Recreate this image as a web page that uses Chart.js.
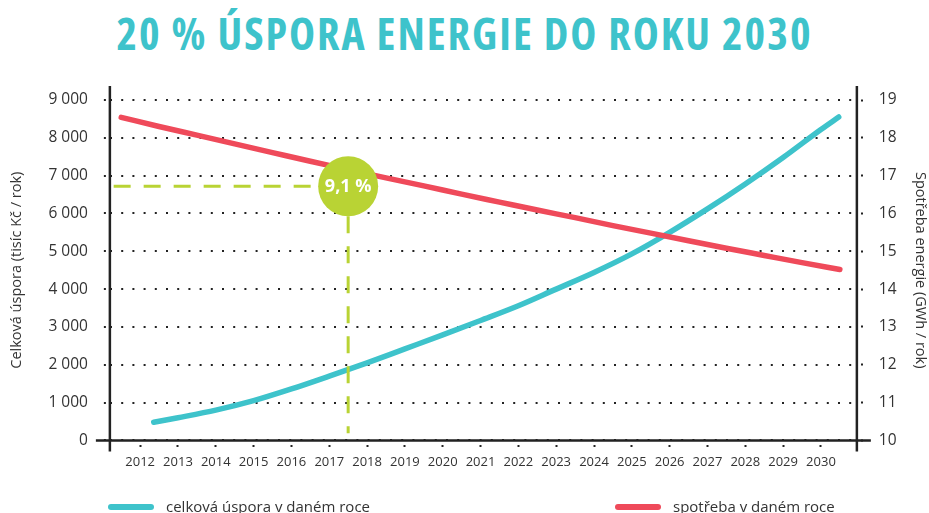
<!DOCTYPE html>
<html lang="cs">
<head>
<meta charset="utf-8">
<script src="https://cdn.jsdelivr.net/npm/chart.js@4"></script>
<style>
  html, body { margin: 0; padding: 0; background: #fff; }
  #wrap { position: relative; width: 929px; height: 513px; overflow: hidden; }
  #title {
    position: absolute; left: 0; top: 3px; width: 929px; text-align: center;
    font-family: "Open Sans"; font-weight: 700; font-stretch: 75%; font-size: 44px;
    letter-spacing: 2px; color: #3ec3cb; white-space: nowrap;
  }
  #chart { position: absolute; left: 0; top: 0; }
  .legend-item {
    position: absolute; top: 496px; font-family: "Open Sans"; font-size: 15px;
    color: #333; white-space: nowrap; line-height: 20px;
  }
  .legend-item i {
    display: inline-block; width: 46px; height: 6px; border-radius: 3px;
    vertical-align: middle; margin-right: 12px; position: relative; top: -1px;
  }
</style>
</head>
<body>
<div id="wrap">
  <div id="title">20 % ÚSPORA ENERGIE DO ROKU 2030</div>
  <canvas id="chart" width="929" height="513"></canvas>
  <div id="legend"></div>
</div>
<script>
// roky na ose x
const years = [2012, 2013, 2014, 2015, 2016, 2017, 2018, 2019, 2020, 2021,
  2022, 2023, 2024, 2025, 2026, 2027, 2028, 2029, 2030];

// celková úspora (tisíc Kč / rok) - levá osa
const savingYears = [2012.36, 2013, 2014, 2015, 2016, 2017, 2018, 2019, 2020, 2021,
  2022, 2023, 2024, 2025, 2026, 2027, 2028, 2029, 2030, 2030.47];
const savingValues = [480, 600, 800, 1050, 1360, 1700, 2050, 2420, 2790, 3170,
  3560, 4000, 4440, 4930, 5500, 6120, 6780, 7480, 8220, 8550];

// spotřeba energie (GWh / rok) - pravá osa
const consumptionYears = [2011.5, 2012.5, 2013.5, 2014.5, 2015.5, 2016.5, 2017.5, 2018.5, 2019.5, 2020.5,
  2021.5, 2022.5, 2023.5, 2024.5, 2025.5, 2026.5, 2027.5, 2028.5, 2029.5, 2030.5];
const consumptionValues = [18.54, 18.30, 18.07, 17.84, 17.61, 17.38, 17.16, 16.94, 16.73, 16.51,
  16.30, 16.09, 15.89, 15.68, 15.48, 15.28, 15.08, 14.89, 14.70, 14.52];

const leftTickLabels = ["0", "1 000", "2 000", "3 000", "4 000", "5 000", "6 000", "7 000", "8 000", "9 000"];
const rightTickLabels = ["10", "11", "12", "13", "14", "15", "16", "17", "18", "19"];

// zvýrazněný bod
const markerYear = 2017.5;
const markerLevel = 6720;
const markerText = "9,1 %";

const CYAN = "#3ec3cb";
const RED = "#ef4a5a";
const LIME = "#b9d334";
const INK = "#222";
const TEXT = "#333";

const frame = {
  id: "frame",
  beforeDatasetsDraw(chart) {
    const { ctx, chartArea: a } = chart;
    ctx.save();
    ctx.strokeStyle = INK;
    ctx.lineWidth = 2.5;
    ctx.beginPath();
    ctx.moveTo(a.left, a.top - 14); ctx.lineTo(a.left, a.bottom + 11);
    ctx.moveTo(a.right, a.top - 14); ctx.lineTo(a.right, a.bottom + 11);
    ctx.moveTo(a.left - 14, a.bottom); ctx.lineTo(a.right + 14, a.bottom);
    ctx.stroke();
    ctx.restore();
  },
  afterDatasetsDraw(chart) {
    const pt = chart.getDatasetMeta(0).data[0];
    const ctx = chart.ctx;
    ctx.save();
    ctx.fillStyle = "#fff";
    ctx.font = "bold 18px 'Open Sans'";
    ctx.textAlign = "center";
    ctx.textBaseline = "middle";
    ctx.fillText(markerText, pt.x, pt.y + 1);
    ctx.restore();
  }
};

const tickFont = { family: "Open Sans", size: 15.5 };
const axisTitleFont = { family: "Open Sans", size: 14.5 };

const chart = new Chart(document.getElementById("chart"), {
  type: "line",
  data: {
    datasets: [
      {
        label: "marker",
        data: [{ x: markerYear, y: markerLevel }],
        yAxisID: "y",
        showLine: false,
        pointRadius: 30,
        pointBackgroundColor: LIME,
        pointBorderWidth: 0
      },
      {
        label: "h",
        data: [{ x: 2011.3, y: markerLevel }, { x: markerYear, y: markerLevel }],
        yAxisID: "y",
        borderColor: LIME,
        borderWidth: 3,
        borderDash: [17, 13],
        pointRadius: 0
      },
      {
        label: "v",
        data: [{ x: markerYear, y: markerLevel }, { x: markerYear, y: 190 }],
        yAxisID: "y",
        borderColor: LIME,
        borderWidth: 3,
        borderDash: [17, 13],
        pointRadius: 0
      },
      {
        label: "spotřeba v daném roce",
        data: consumptionYears.map((x, i) => ({ x, y: consumptionValues[i] })),
        yAxisID: "y2",
        borderColor: RED,
        borderWidth: 5.5,
        borderCapStyle: "round",
        cubicInterpolationMode: "monotone",
        pointRadius: 0
      },
      {
        label: "celková úspora v daném roce",
        data: savingYears.map((x, i) => ({ x, y: savingValues[i] })),
        yAxisID: "y",
        borderColor: CYAN,
        borderWidth: 5.5,
        borderCapStyle: "round",
        cubicInterpolationMode: "monotone",
        pointRadius: 0
      }
    ]
  },
  options: {
    responsive: false,
    animation: false,
    layout: { padding: { left: 4, right: 0, top: 100, bottom: 39 } },
    plugins: {
      legend: { display: false },
      tooltip: { enabled: false }
    },
    scales: {
      x: {
        type: "linear",
        min: 2011.2,
        max: 2030.95,
        afterBuildTicks: s => { s.ticks = years.map(v => ({ value: v })); },
        ticks: {
          color: TEXT,
          font: { family: "Open Sans", size: 13 },
          padding: 4,
          maxRotation: 0,
          callback: v => String(v)
        },
        border: { display: false },
        grid: {
          drawOnChartArea: false,
          tickLength: 10,
          tickWidth: 2,
          tickColor: INK,
          tickBorderDash: [0, 5, 2, 20]
        }
      },
      y: {
        position: "left",
        min: 0,
        max: 9000,
        ticks: {
          stepSize: 1000,
          color: TEXT,
          font: tickFont,
          padding: 12,
          callback: (v, i) => leftTickLabels[i]
        },
        border: { display: false, dash: [2, 9.2] },
        grid: {
          color: INK,
          lineWidth: 2,
          tickLength: 10,
          tickWidth: 2,
          tickColor: INK,
          tickBorderDash: [0, 4, 2, 20]
        },
        title: {
          display: true,
          text: "Celková úspora (tisíc Kč / rok)",
          color: TEXT,
          font: axisTitleFont,
          padding: { top: 4, bottom: 11 }
        }
      },
      y2: {
        position: "right",
        min: 10,
        max: 19,
        ticks: {
          stepSize: 1,
          color: TEXT,
          font: tickFont,
          padding: 12,
          callback: (v, i) => rightTickLabels[i]
        },
        border: { display: false },
        grid: {
          drawOnChartArea: false,
          tickLength: 10,
          tickWidth: 2,
          tickColor: INK,
          tickBorderDash: [0, 4, 2, 20]
        },
        title: {
          display: true,
          text: "Spotřeba energie (GWh / rok)",
          color: TEXT,
          font: axisTitleFont,
          padding: { top: 0, bottom: 3 }
        }
      }
    }
  },
  plugins: [frame]
});

// legenda pod grafem
const legendPos = { "celková úspora v daném roce": 108, "spotřeba v daném roce": 615 };
const legend = document.getElementById("legend");
chart.data.datasets.filter(d => legendPos[d.label] !== undefined).forEach(d => {
  const item = document.createElement("div");
  item.className = "legend-item";
  item.style.left = legendPos[d.label] + "px";
  item.innerHTML = `<i style="background:${d.borderColor}"></i>${d.label}`;
  legend.appendChild(item);
});
</script>
</body>
</html>
